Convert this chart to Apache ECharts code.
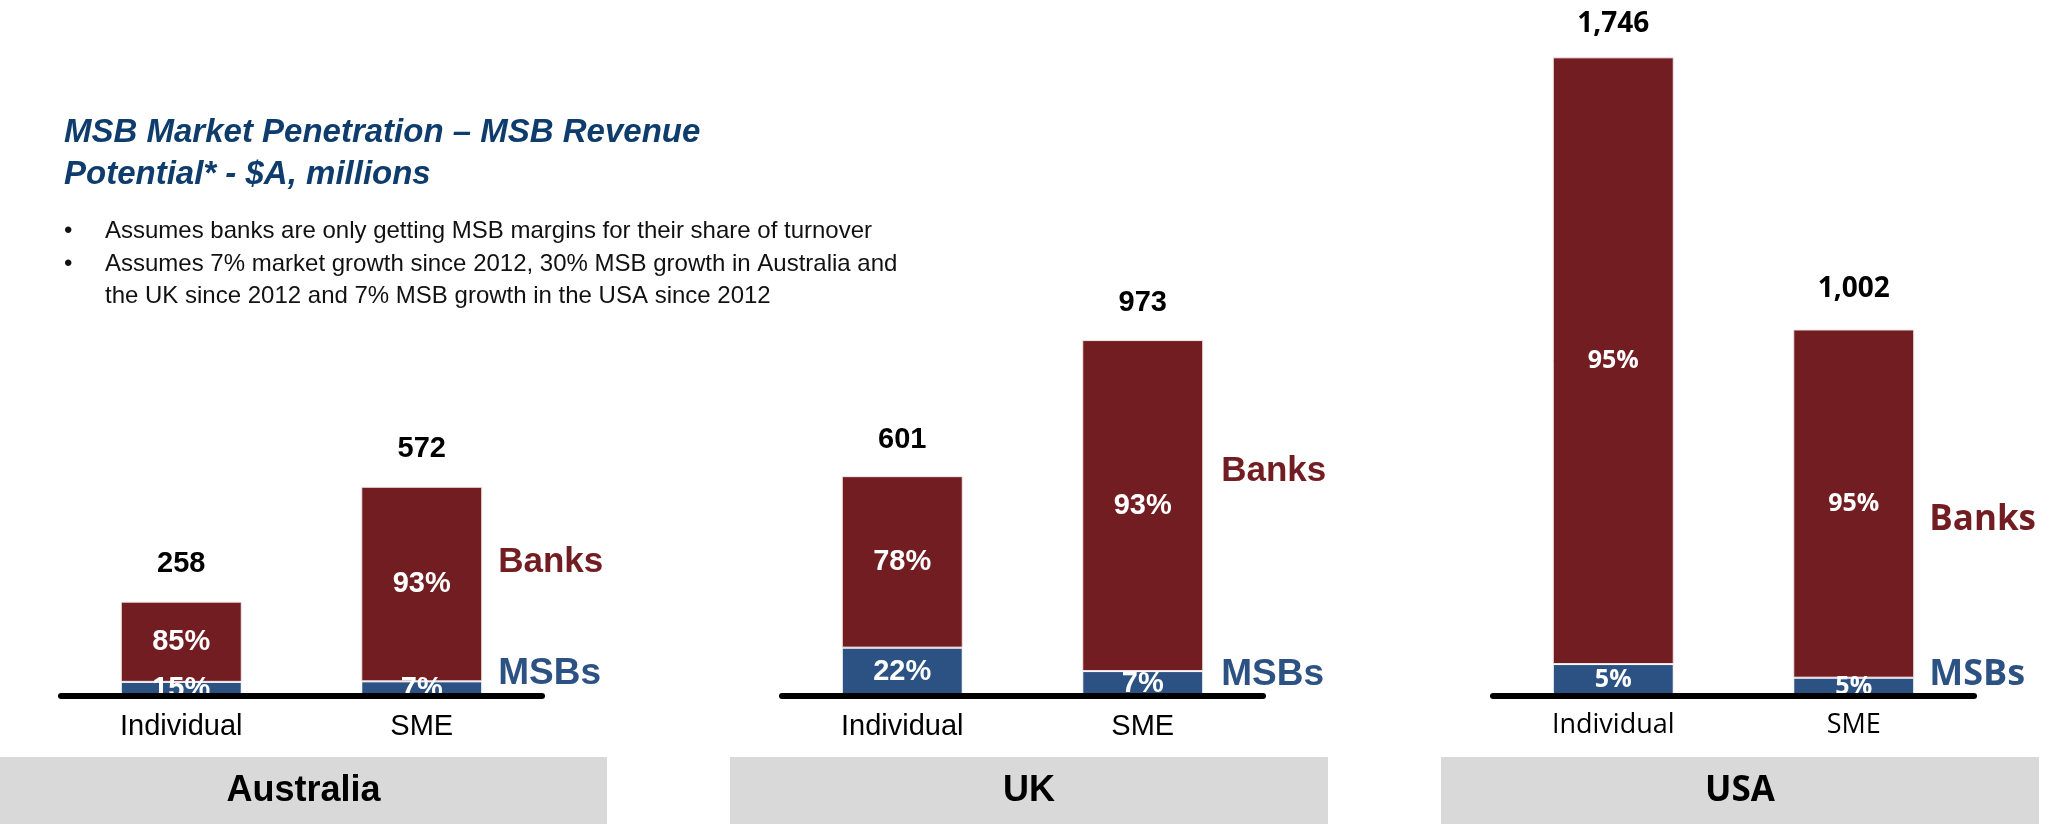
<!DOCTYPE html>
<html>
<head>
<meta charset="utf-8">
<script src="https://cdn.jsdelivr.net/npm/echarts@6/dist/echarts.min.js"></script>
<style>
  html, body { margin: 0; padding: 0; background: #ffffff; }
  #chart { width: 2054px; height: 824px; }
</style>
</head>
<body>
<div id="chart"></div>
<script>
// ---- data (A$ millions, revenue potential) ----
const markets = ['Australia', 'UK', 'USA'];
const categories = ['Individual', 'SME'];

const australiaTotals = [258, 572];
const australiaBankShare = [85, 93];
const australiaMsbShare = [15, 7];

const ukTotals = [601, 973];
const ukBankShare = [78, 93];
const ukMsbShare = [22, 7];

const usaTotals = [1746, 1002];
const usaBankShare = [95, 95];
const usaMsbShare = [5, 5];

const titleText = 'MSB Market Penetration \u2013 MSB Revenue\nPotential* - $A, millions';
const bulletNotes = [
  'Assumes banks are only getting MSB margins for their share of turnover',
  'Assumes 7% market growth since 2012, 30% MSB growth in Australia and\nthe UK since 2012 and 7% MSB growth in the USA since 2012'
];

// ---- styling / layout ----
const RED = '#721D21';
const BLUE = '#2C5283';
const NAVY = '#0E3C6C';
const BAND = '#D9D9D9';

const panelTotals = [australiaTotals, ukTotals, usaTotals];
const panelBank = [australiaBankShare, ukBankShare, usaBankShare];
const panelMsb = [australiaMsbShare, ukMsbShare, usaMsbShare];

const NARROW = '"Liberation Sans", Arial, sans-serif';
const ROUND = '"Open Sans", "DejaVu Sans", sans-serif';
const panelFont = [NARROW, NARROW, ROUND];
const catSize = [29, 29, 27];
const catMargin = [16, 16, 16];
const pctSize = [29, 29, 25];
const totalSize = [29, 29, 28];
const totalDistance = [[23, 23], [22, 23], [19, 26]];
const plotLeft = [61, 782, 1493];
const plotWidth = 481;
const barWidth = 121;
const bandX = [[0, 607], [730, 1328], [1441, 2039]];
const bandSize = [36, 36, 35];
const sideGap = [16, 18, 15];
const banksY = [562, 471, 520];
const msbsY = [674, 675, 675];
const sideSize = [[35, 37], [35, 37], [35, 36]];

const chart = echarts.init(document.getElementById('chart'), null, { renderer: 'canvas' });

const grid = markets.map((m, i) => ({ left: plotLeft[i], width: plotWidth, top: 1, bottom: 128 }));

const xAxis = markets.map((m, i) => ({
  gridIndex: i,
  type: 'category',
  data: categories,
  z: 10,
  axisLine: { show: true, lineStyle: { color: '#000000', width: 6 } },
  axisTick: { show: false },
  splitLine: { show: false },
  axisLabel: { color: '#000000', fontSize: catSize[i], fontFamily: panelFont[i], margin: catMargin[i] }
}));

const yAxis = markets.map((m, i) => ({ gridIndex: i, type: 'value', min: 0, max: 1900, show: false }));

const series = [];
markets.forEach((m, i) => {
  const totals = panelTotals[i];
  const msb = panelMsb[i];
  const bank = panelBank[i];
  const pctLabel = (shares) => ({
    show: true,
    position: 'inside',
    color: '#ffffff',
    fontWeight: 'bold',
    fontSize: pctSize[i],
    fontFamily: panelFont[i],
    formatter: (p) => shares[p.dataIndex] + '%'
  });
  series.push({
    name: 'MSBs',
    type: 'bar',
    xAxisIndex: i,
    yAxisIndex: i,
    stack: 'market' + i,
    barWidth: barWidth,
    itemStyle: { color: BLUE, borderColor: '#ffffff', borderWidth: 1 },
    label: pctLabel(msb),
    data: totals.map((t, k) => t * msb[k] / 100)
  });
  series.push({
    name: 'Banks',
    type: 'bar',
    xAxisIndex: i,
    yAxisIndex: i,
    stack: 'market' + i,
    barWidth: barWidth,
    itemStyle: { color: RED, borderColor: '#f4e6e6', borderWidth: 1 },
    label: pctLabel(bank),
    data: totals.map((t, k) => t * bank[k] / 100)
  });
  // bar totals written above each stack
  series.push({
    name: 'Total',
    type: 'scatter',
    xAxisIndex: i,
    yAxisIndex: i,
    symbol: 'circle',
    symbolSize: 0,
    itemStyle: { color: '#ffffff', opacity: 1 },
    silent: true,
    label: {
      show: true,
      position: 'top',
      color: '#000000',
      opacity: 1,
      fontWeight: 'bold',
      fontSize: totalSize[i],
      fontFamily: panelFont[i],
      formatter: (p) => p.value.toLocaleString('en-US')
    },
    data: totals.map((t, k) => ({ value: t, label: { distance: totalDistance[i][k] } }))
  });
});

chart.setOption({
  animation: false,
  backgroundColor: '#ffffff',
  grid: grid,
  xAxis: xAxis,
  yAxis: yAxis,
  series: series
});

// ---- annotations: title, notes, Banks / MSBs keys, market bands ----
const graphic = [];
graphic.push({
  type: 'text', x: 64, y: 112, z: 20,
  style: { text: titleText, fill: NAVY, font: 'italic bold 33px ' + NARROW, lineHeight: 42, align: 'left', verticalAlign: 'top' }
});
const noteTops = [215, 248];
bulletNotes.forEach((note, n) => {
  graphic.push({
    type: 'text', x: 64, y: noteTops[n], z: 20,
    style: { text: '\u2022', fill: '#111111', font: '24px ' + NARROW, lineHeight: 32, align: 'left', verticalAlign: 'top' }
  });
  graphic.push({
    type: 'text', x: 105, y: noteTops[n], z: 20,
    style: { text: note, fill: '#111111', font: '24px ' + NARROW, lineHeight: 32, align: 'left', verticalAlign: 'top' }
  });
});

markets.forEach((m, i) => {
  const smeCenter = chart.convertToPixel({ gridIndex: i }, ['SME', 0]);
  const keyX = smeCenter[0] + barWidth / 2 + sideGap[i];
  graphic.push({
    type: 'text', x: keyX, y: banksY[i], z: 20,
    style: { text: 'Banks', fill: RED, font: 'bold ' + sideSize[i][0] + 'px ' + panelFont[i], align: 'left', verticalAlign: 'middle' }
  });
  graphic.push({
    type: 'text', x: keyX, y: msbsY[i], z: 20,
    style: { text: 'MSBs', fill: BLUE, font: 'bold ' + sideSize[i][1] + 'px ' + panelFont[i], align: 'left', verticalAlign: 'middle' }
  });
  graphic.push({
    type: 'rect', z: 1,
    shape: { x: bandX[i][0], y: 757, width: bandX[i][1] - bandX[i][0], height: 67 },
    style: { fill: BAND }
  });
  graphic.push({
    type: 'text', x: (bandX[i][0] + bandX[i][1]) / 2, y: 791, z: 20,
    style: { text: m, fill: '#000000', font: 'bold ' + bandSize[i] + 'px ' + panelFont[i], align: 'center', verticalAlign: 'middle' }
  });
});

chart.setOption({ graphic: graphic });
</script>
</body>
</html>
